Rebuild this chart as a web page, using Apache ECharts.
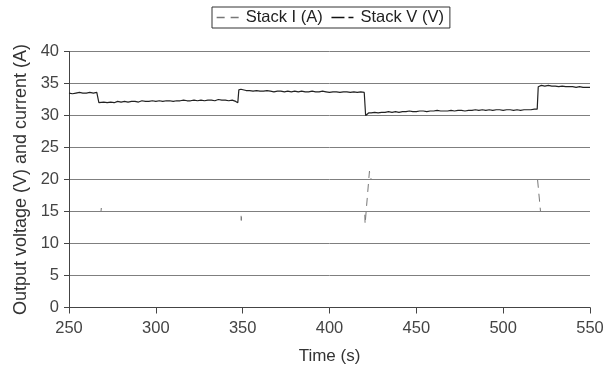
<!DOCTYPE html>
<html>
<head>
<meta charset="utf-8">
<script src="https://cdn.jsdelivr.net/npm/echarts@6/dist/echarts.min.js"></script>
<style>html,body{margin:0;padding:0;background:#fff;}#c{width:608px;height:372px;}</style>
</head>
<body>
<div id="c"></div>
<script>
// Time axis ticks
var xTicks = [250, 300, 350, 400, 450, 500, 550];
var yTicks = [0, 5, 10, 15, 20, 25, 30, 35, 40];

// Stack V (V) – output voltage
var voltT = [250,252,254,256,258,260,262,264,266,266.6,267.2,
  268,270,272,274,276,278,280,282,284,286,288,290,292,294,296,298,300,302,304,306,308,310,312,314,316,318,320,322,324,326,328,330,332,334,336,338,340,342,344,346,346.6,347.2,
  347.8,349,350,352,354,356,358,360,362,364,366,368,370,372,374,376,378,380,382,384,386,388,390,392,394,396,398,400,402,404,406,408,410,412,414,416,418,420,
  420.4,420.8,421.5,422.5,
  424,426,428,430,432,434,436,438,440,442,444,446,448,450,452,454,456,458,460,462,464,466,468,470,472,474,476,478,480,482,484,486,488,490,492,494,496,498,500,502,504,506,508,510,512,514,516,518,519.6,
  520.2,520.8,522,524,526,528,530,532,534,536,538,540,542,544,546,548,550];
var voltV = [33.5,33.4,33.5,33.6,33.5,33.5,33.6,33.5,33.6,33.6,32.0,
  32.0,32.1,32.0,32.1,32.0,32.2,32.1,32.2,32.1,32.2,32.2,32.1,32.3,32.2,32.2,32.3,32.2,32.3,32.2,32.3,32.3,32.2,32.3,32.3,32.4,32.3,32.3,32.4,32.3,32.4,32.3,32.4,32.4,32.3,32.5,32.4,32.4,32.3,32.4,32.2,32.1,32.0,
  34.0,34.1,34.0,33.9,33.9,33.8,33.9,33.8,33.8,33.9,33.8,33.7,33.8,33.8,33.7,33.8,33.7,33.8,33.7,33.8,33.7,33.7,33.8,33.7,33.7,33.8,33.7,33.6,33.7,33.7,33.6,33.7,33.7,33.6,33.7,33.6,33.7,33.6,
  33.5,30.0,30.2,30.4,
  30.4,30.5,30.4,30.5,30.5,30.6,30.5,30.6,30.5,30.6,30.6,30.7,30.6,30.6,30.7,30.7,30.6,30.7,30.7,30.8,30.7,30.7,30.7,30.8,30.7,30.8,30.8,30.7,30.8,30.8,30.9,30.8,30.9,30.8,30.9,30.8,30.9,30.9,30.8,30.9,30.9,30.8,30.9,30.8,30.9,30.9,30.9,31.0,31.0,
  34.5,34.8,34.7,34.6,34.7,34.6,34.6,34.5,34.6,34.5,34.5,34.5,34.4,34.5,34.4,34.4,34.4];

// Stack I (A) – current (sits on the 15 / 20 gridlines)
var currT = [250,268.4,268.6,268.8,349.0,349.2,349.4,420.3,420.5,423.0,424.0,519.8,520.2,521.5,550];
var currI = [15,15,15.5,15,15,13.6,15,15,13.0,21.3,20,20,19.8,15,15];

function pairs(t, v){ var o=[]; for(var i=0;i<t.length;i++) o.push([t[i], v[i]]); return o; }

var chart = echarts.init(document.getElementById('c'), null, {renderer:'canvas'});
var font = 'Liberation Sans, Arial, Helvetica, sans-serif';
chart.setOption({
  animation:false,
  textStyle:{fontFamily:font},
  grid:{left:69, right:18, top:51.5, bottom:64.5, containLabel:false},
  legend:{
    left:212, top:7, padding:[2,6,2,4], itemGap:8, itemWidth:24, itemHeight:12,
    borderColor:'#333', borderWidth:1,
    textStyle:{fontFamily:font, fontSize:16.5, color:'#222'},
    itemStyle:{opacity:0},
    data:[
      {name:'Stack I (A)', itemStyle:{opacity:0}, lineStyle:{type:[8,6], color:'#777', width:1.3}},
      {name:'Stack V (V)', itemStyle:{opacity:0}, lineStyle:{type:[13,4,5,4], color:'#111', width:1.6}}
    ]
  },
  xAxis:{
    type:'value', min:xTicks[0], max:xTicks[xTicks.length-1], interval:50,
    name:'Time (s)', nameLocation:'middle', nameGap:40,
    nameTextStyle:{fontFamily:font, fontSize:17, color:'#333'},
    axisLine:{lineStyle:{color:'#444', width:1}},
    axisTick:{show:true, length:6, lineStyle:{color:'#444'}},
    axisLabel:{margin:12, fontFamily:font, fontSize:16.5, color:'#444'},
    splitLine:{show:false}
  },
  yAxis:{
    type:'value', min:yTicks[0], max:yTicks[yTicks.length-1], interval:5,
    name:'Output voltage (V) and current (A)', nameLocation:'middle', nameGap:37,
    nameTextStyle:{fontFamily:font, fontSize:18, color:'#333'},
    axisLine:{show:true, lineStyle:{color:'#444', width:1}},
    axisTick:{show:true, length:5, lineStyle:{color:'#444'}},
    axisLabel:{margin:10, fontFamily:font, fontSize:16.5, color:'#444'},
    splitLine:{show:true, lineStyle:{color:'#7f7f7f', width:1}}
  },
  series:[
    {name:'Stack I (A)', type:'line', data:pairs(currT, currI), symbol:'none', z:-1,
     itemStyle:{color:'#777'},
     lineStyle:{color:'#777', width:1, type:[8,6]}},
    {name:'Stack V (V)', type:'line', data:pairs(voltT, voltV), symbol:'none', z:3,
     itemStyle:{color:'#222'},
     lineStyle:{color:'#222', width:1.2}}
  ]
});
</script>
</body>
</html>
